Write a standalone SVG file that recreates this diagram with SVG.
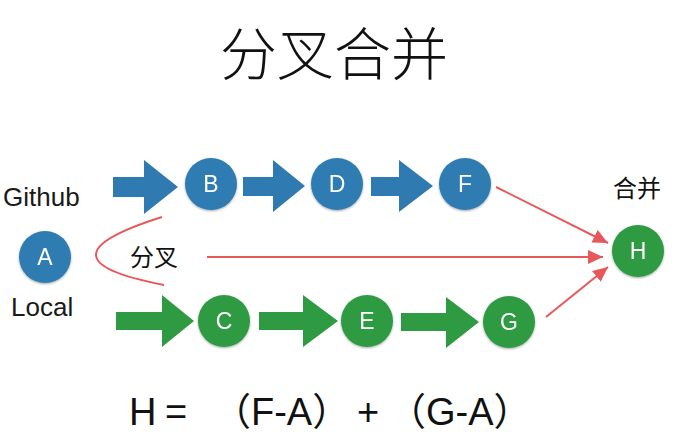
<svg xmlns="http://www.w3.org/2000/svg" width="679" height="434" viewBox="0 0 679 434">
<style>
.bg{fill:#ffffff}
.blue{fill:#2f7bb1}
.green{fill:#2e9a42}
.node{filter:url(#sh)}
.nl{font-family:"Liberation Sans","DejaVu Sans",sans-serif;font-size:23px;fill:#ffffff;text-anchor:middle}
.lbl{font-family:"Liberation Sans","Noto Sans CJK SC",sans-serif;font-size:26px;fill:#1a1a1a}
.cjk{font-family:"Noto Sans CJK SC",sans-serif;fill:#111111}
.thin{font-weight:300}
.red{stroke:#e8585a;stroke-width:2;fill:none}
.f{font-family:"Liberation Sans","Noto Sans CJK SC",sans-serif;font-size:38px;fill:#111111}
</style>
<defs>
<filter id="sh" x="-20%" y="-20%" width="140%" height="140%">
<feDropShadow dx="0" dy="1" stdDeviation="1" flood-color="#000000" flood-opacity="0.35"/>
</filter>
<marker id="ah" markerUnits="userSpaceOnUse" markerWidth="16" markerHeight="16" refX="15" refY="7" orient="auto">
<path d="M0,0 L15,7 L0,14 Z" fill="#e8585a"/>
</marker>
</defs>
<rect class="bg" x="0" y="0" width="679" height="434"/>
<text class="cjk thin" x="334" y="75" font-size="57" text-anchor="middle">分叉合并</text>
<text class="lbl" x="3" y="206">Github</text>
<text class="lbl" x="11" y="316">Local</text>
<text class="cjk" x="130" y="266" font-size="24">分叉</text>
<text class="cjk" x="613" y="197" font-size="24">合并</text>
<g id="connectors">
<polygon class="blue" points="113,177 144,177 144,160 178,187 144,214 144,197 113,197"/>
<polygon class="blue" points="243,177 273,177 273,160 305,186 273,212 273,196 243,196"/>
<polygon class="blue" points="371,177 399,177 399,160 433,186 399,212 399,196 371,196"/>
<polygon class="green" points="116,312 162,312 162,295 194,321 162,347 162,330 116,330"/>
<polygon class="green" points="259,312 303,312 303,295 338,321 303,347 303,330 259,330"/>
<polygon class="green" points="401,313 446,313 446,297 479,322 446,348 446,331 401,331"/>
<path class="red" d="M162,217 Q29,259 164,285"/>
<line class="red" x1="496" y1="187" x2="608" y2="243" marker-end="url(#ah)"/>
<line class="red" x1="207" y1="257" x2="603" y2="257" marker-end="url(#ah)"/>
<line class="red" x1="546" y1="317" x2="608" y2="267" marker-end="url(#ah)"/>
</g>
<g id="node-A" class="node"><circle class="blue" cx="45" cy="257" r="26"/><text class="nl" x="45" y="265">A</text></g>
<g id="node-B" class="node"><circle class="blue" cx="211" cy="184" r="26"/><text class="nl" x="211" y="192">B</text></g>
<g id="node-D" class="node"><circle class="blue" cx="337" cy="184" r="26"/><text class="nl" x="337" y="192">D</text></g>
<g id="node-F" class="node"><circle class="blue" cx="465" cy="184" r="26"/><text class="nl" x="465" y="192">F</text></g>
<g id="node-C" class="node"><circle class="green" cx="224" cy="321" r="26"/><text class="nl" x="224" y="329">C</text></g>
<g id="node-E" class="node"><circle class="green" cx="367" cy="321" r="26"/><text class="nl" x="367" y="329">E</text></g>
<g id="node-G" class="node"><circle class="green" cx="509" cy="322" r="26"/><text class="nl" x="509" y="330">G</text></g>
<g id="node-H" class="node"><circle class="green" cx="638" cy="251" r="26"/><text class="nl" x="638" y="259">H</text></g>
<g id="formula">
<text class="f" x="129" y="425">H</text>
<text class="f" x="165" y="425" textLength="28">=</text>
<text class="f" x="213" y="425">（F-A）</text>
<text class="f" x="357" y="425">+</text>
<text class="f" x="388" y="425">（G-A）</text>
</g>
</svg>
